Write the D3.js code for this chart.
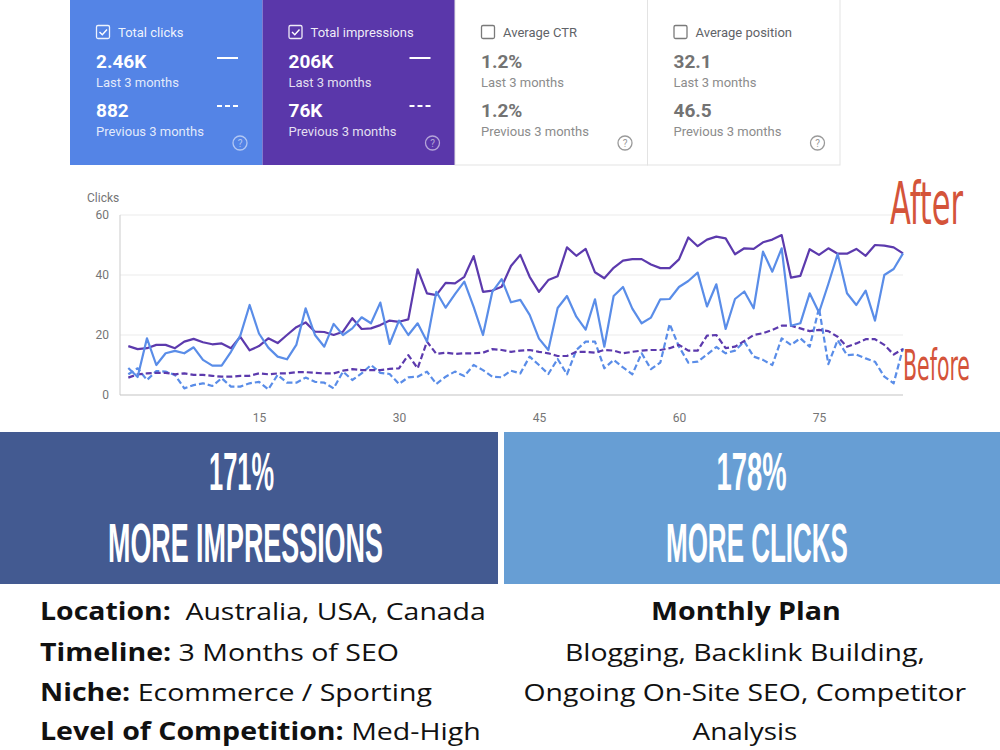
<!DOCTYPE html>
<html>
<head>
<meta charset="utf-8">
<script src="https://cdn.jsdelivr.net/npm/d3@7"></script>
<style>
  html,body{margin:0;padding:0;background:#fff;}
  svg{display:block;}
</style>
</head>
<body>
<svg id="chart" width="1000" height="750"></svg>
<script>
// ---------------- DATA ----------------
const cardTitles   = ["Total clicks", "Total impressions", "Average CTR", "Average position"];
const cardCurrent  = ["2.46K", "206K", "1.2%", "32.1"];
const cardPrevious = ["882", "76K", "1.2%", "46.5"];
const cardActive   = [true, true, false, false];

const yTicks = [0, 20, 40, 60];
const xTicks = [15, 30, 45, 60, 75];

// Impressions, last 3 months (purple solid)
const impressionsLast = [16.3,15.3,15.6,16.7,16.7,15.6,17.8,18.7,17.6,16.9,17.2,15.6,19.4,14.9,16.3,18.9,17.3,20,22.6,24.2,
  21.1,21,20,21.1,25.6,22,22.2,23.3,24.8,24.4,25.2,41.9,33.9,33.3,37.4,37.2,39.4,46.3,34.4,34.8,36.1,43,46.7,39.4,34.4,38.3,
  39.6,49.2,46.4,48.7,40.9,38.9,42.4,44.8,45.3,45.3,43.5,42.3,42.3,45.2,52.5,49.6,51.8,52.8,52.2,46.9,48.9,48.7,50.9,51.8,
  53.3,39.1,39.7,48.6,46.7,48.9,47.1,47.1,48.7,46.4,50,49.8,49.2,47.2];
// Clicks, last 3 months (blue solid)
const clicksLast = [9,6,18.9,10,13.9,14.7,13.9,15.9,11.7,9.8,9.8,14.4,19.8,30,20.5,15.8,12.8,11.9,16.7,28.9,
  20,16.1,23.7,20,22.2,25.9,23.9,30.8,17,24.8,20,23.9,17.8,34.4,29.1,33.6,37.8,29.4,20,34.4,38.6,30.9,31.7,26.7,18.8,15,
  29,33,26.1,21.8,31.9,16.1,33,36,28.8,23.9,25.8,31.9,32,36,38,40.8,29.5,36.9,22,32,34.5,28.9,47.8,41.1,
  48.9,23.1,23.9,33.9,27.5,37,47,33.9,30,34.8,24.8,40,42,47.2];
// Impressions, previous 3 months (purple dashed)
const impressionsPrev = [5.8,6.9,7.2,7.4,7.4,6.9,7.2,6.7,6.7,6.4,6.1,6.1,6.4,6.4,7.2,6.9,7.2,7.2,7.6,7.6,
  7.4,7.2,7.2,8.1,8.6,8.3,8.3,8.3,8.7,8.9,13.3,8.9,17.8,13.7,14.1,13.7,13.9,13.9,14.1,15.3,15,14.4,14.8,15,14.4,13.9,
  13,13,14.4,14.4,14.1,15,14.8,13.9,14.4,14.8,15,15,15.6,16.7,14.8,14.8,19.8,20,15.6,16.1,18,20,20.6,21.7,
  23.1,23.1,22.2,21.3,21.7,21.3,19.4,16.1,17.2,18.6,18.6,16.7,13.5,15.3];
// Clicks, previous 3 months (blue dashed)
const clicksPrev = [6.9,8.9,5,8,7.8,6.7,2.2,3.3,3.9,3,5.6,2.8,2.8,3.9,4.4,1.9,6.7,4.1,4.1,5.8,
  4.4,4.1,2.2,7.8,5,7.2,10,7.4,7,3.7,5.9,6.1,7.8,3.7,6.1,7.8,6.3,10,8.3,6.1,5.9,8.1,7.2,12.8,10,7,
  12,6.9,15,17.8,17.8,8.9,11.7,9.2,6.9,13.9,8.6,10.8,23.7,16.1,10.8,11.1,13.5,16,13.9,14.8,17.8,12.8,11.7,10,
  18.9,16.7,18.9,16.1,29,10.3,18.3,13.3,13.5,12.2,11.1,6.1,3.9,15.6];

const statPercents = ["171%", "178%"];
const statLabels   = ["MORE IMPRESSIONS", "MORE CLICKS"];

const detailRows = [
  ["Location:", "  Australia, USA, Canada"],
  ["Timeline:", " 3 Months of SEO"],
  ["Niche:", " Ecommerce / Sporting"],
  ["Level of Competition:", " Med-High"]
];
const planTitle = "Monthly Plan";
const planLines = ["Blogging, Backlink Building,", "Ongoing On-Site SEO, Competitor", "Analysis"];

// ---------------- STYLE ----------------
const BLUE = "#5a8de8", PURPLE = "#5c3aad";
const CARD_BLUE = "#5484e6", CARD_PURPLE = "#5a37aa";
const svg = d3.select("#chart");
const FONT = "Roboto, 'Noto Sans', sans-serif";

// place a text so its natural width is scaled to a target width (left edge at x, baseline y)
function fitText(sel, x, yBase, targetW, sy) {
  const len = sel.node().getComputedTextLength();
  const sx = targetW / len;
  sel.attr("x", 0).attr("y", 0)
    .attr("transform", `translate(${x},${yBase}) scale(${sx},${sy || 1})`);
  return sel;
}

// ---------------- CARDS ----------------
const cardX = d3.scaleBand().domain(cardTitles).range([70, 840]).padding(0);
const cardFill = [CARD_BLUE, CARD_PURPLE, "#fff", "#fff"];

cardTitles.forEach((t, i) => {
  const x0 = cardX(t), w = cardX.bandwidth();
  const act = cardActive[i];
  const g = svg.append("g").attr("transform", `translate(${x0},0)`);
  g.append("rect").attr("x", 0).attr("y", -2).attr("width", w).attr("height", 167)
    .attr("fill", cardFill[i])
    .attr("stroke", act ? "none" : "#e3e3e3").attr("stroke-width", 1);
  const cTitle = act ? "rgba(255,255,255,0.92)" : "#5f6368";
  const cVal = act ? "#fff" : "#737373";
  const cSub = act ? "rgba(255,255,255,0.85)" : "#8c8c8c";
  g.append("rect").attr("x", 26.5).attr("y", 25.5).attr("width", 13).attr("height", 13).attr("rx", 1.5)
    .attr("fill", "none").attr("stroke", act ? "rgba(255,255,255,0.9)" : "#7a7a7a").attr("stroke-width", 1.3);
  if (act) {
    g.append("path").attr("d", "M29.5,32 L32.3,34.8 L37,29.5").attr("fill", "none")
      .attr("stroke", "#fff").attr("stroke-width", 1.4);
  }
  g.append("text").attr("x", 48).attr("y", 37).text(t)
    .attr("font-family", FONT).attr("font-size", 13).attr("fill", cTitle);
  g.append("text").attr("x", 26).attr("y", 68).text(cardCurrent[i])
    .attr("font-family", FONT).attr("font-size", 19).attr("font-weight", 700).attr("fill", cVal);
  g.append("text").attr("x", 26).attr("y", 87).text("Last 3 months")
    .attr("font-family", FONT).attr("font-size", 13).attr("fill", cSub);
  g.append("text").attr("x", 26).attr("y", 117).text(cardPrevious[i])
    .attr("font-family", FONT).attr("font-size", 19).attr("font-weight", 700).attr("fill", cVal);
  g.append("text").attr("x", 26).attr("y", 136).text("Previous 3 months")
    .attr("font-family", FONT).attr("font-size", 13).attr("fill", cSub);
  if (act) {
    g.append("line").attr("x1", 147).attr("x2", 168).attr("y1", 58).attr("y2", 58)
      .attr("stroke", "#fff").attr("stroke-width", 2);
    g.append("line").attr("x1", 147).attr("x2", 168).attr("y1", 106).attr("y2", 106)
      .attr("stroke", "#fff").attr("stroke-width", 2).attr("stroke-dasharray", "5,3");
  }
  const hc = act ? "rgba(255,255,255,0.55)" : "#9a9a9a";
  g.append("circle").attr("cx", 170).attr("cy", 143).attr("r", 7)
    .attr("fill", "none").attr("stroke", hc).attr("stroke-width", 1.3);
  g.append("text").attr("x", 170).attr("y", 147).attr("text-anchor", "middle").text("?")
    .attr("font-family", FONT).attr("font-size", 10).attr("fill", hc);
});

// ---------------- LINE CHART ----------------
const x = d3.scaleLinear().domain([1, 84]).range([128.3, 903]);
const y = d3.scaleLinear().domain([0, 60]).range([395, 215]);
const plotLeft = 120, plotRight = 903;

svg.append("g").selectAll("line").data(yTicks.filter(v => v > 0)).join("line")
  .attr("x1", plotLeft).attr("x2", plotRight)
  .attr("y1", d => y(d)).attr("y2", d => y(d))
  .attr("stroke", "#ececec").attr("stroke-width", 1.2);
svg.append("line").attr("x1", plotLeft).attr("x2", plotLeft).attr("y1", y(60)).attr("y2", y(0))
  .attr("stroke", "#d4d4d4").attr("stroke-width", 1.2);
svg.append("line").attr("x1", plotLeft).attr("x2", plotRight).attr("y1", y(0)).attr("y2", y(0))
  .attr("stroke", "#c4c4c4").attr("stroke-width", 1.2);

const yAxis = svg.append("g").attr("transform", `translate(${plotLeft - 11},0)`)
  .call(d3.axisLeft(y).tickValues(yTicks).tickSize(0).tickPadding(0));
yAxis.select(".domain").remove();
yAxis.selectAll("text").attr("font-family", FONT).attr("font-size", 12).attr("fill", "#757575");

const xAxis = svg.append("g").attr("transform", `translate(0,${y(0) + 18})`)
  .call(d3.axisBottom(x).tickValues(xTicks).tickSize(0).tickPadding(0));
xAxis.select(".domain").remove();
xAxis.selectAll("text").attr("font-family", FONT).attr("font-size", 12).attr("fill", "#757575");

svg.append("text").attr("x", 87).attr("y", 202).text("Clicks")
  .attr("font-family", FONT).attr("font-size", 12).attr("fill", "#757575");

const line = d3.line().x((d, i) => x(i + 1)).y(d => y(d));
const seriesDefs = [
  {data: clicksPrev, color: BLUE, dash: "6,3"},
  {data: impressionsPrev, color: PURPLE, dash: "6,3"},
  {data: impressionsLast, color: PURPLE, dash: null},
  {data: clicksLast, color: BLUE, dash: null}
];
seriesDefs.forEach(s => {
  svg.append("path").datum(s.data).attr("d", line)
    .attr("fill", "none").attr("stroke", s.color).attr("stroke-width", 2.2)
    .attr("stroke-linejoin", "round")
    .attr("stroke-dasharray", s.dash);
});

// After / Before annotations
const ANNO = "'Liberation Sans Narrow', 'DejaVu Sans Condensed', sans-serif";
fitText(svg.append("text").text("After").attr("font-family", ANNO)
  .attr("font-size", 40).attr("fill", "#d4543a"), 890, 224, 73, 1.45);
fitText(svg.append("text").text("Before").attr("font-family", ANNO)
  .attr("font-size", 30).attr("fill", "#d4543a"), 903, 380, 67, 1.4);

// ---------------- STAT BOXES ----------------
const boxX = [0, 504], boxW = [498, 496];
const boxFill = ["#435a91", "#679ed4"];
const pctCenters = [241.5, 751.5], pctW = [65, 70];
const lblCenters = [245.5, 757], lblW = [275, 182];
const HEAD = "'Liberation Sans Narrow', 'Liberation Sans', Arial, sans-serif";
statPercents.forEach((p, i) => {
  svg.append("rect").attr("x", boxX[i]).attr("y", 432).attr("width", boxW[i]).attr("height", 152)
    .attr("fill", boxFill[i]);
  fitText(svg.append("text").text(p)
    .attr("font-family", HEAD).attr("font-weight", 700).attr("font-size", 54).attr("fill", "#fff"),
    pctCenters[i] - pctW[i] / 2, 490, pctW[i], 1);
  fitText(svg.append("text").text(statLabels[i])
    .attr("font-family", HEAD).attr("font-weight", 700).attr("font-size", 56).attr("fill", "#fff"),
    lblCenters[i] - lblW[i] / 2, 562, lblW[i], 1);
});

// ---------------- DETAILS ----------------
const BODY = "'Open Sans', 'Noto Sans', sans-serif";
const BODY_SIZE = 24.5;
const rowBase = [620, 661, 701, 740];
const rowW = [446, 359, 392, 441];
detailRows.forEach((r, i) => {
  const t = svg.append("text")
    .attr("font-family", BODY).attr("font-size", BODY_SIZE).attr("fill", "#111")
    .style("white-space", "pre");
  t.append("tspan").attr("font-weight", 700).text(r[0]);
  t.append("tspan").text(r[1]);
  fitText(t, 40, rowBase[i], rowW[i], 1);
});
const planW = [360, 443, 105];
fitText(svg.append("text").text(planTitle)
  .attr("font-family", BODY).attr("font-size", BODY_SIZE).attr("font-weight", 700).attr("fill", "#111"),
  746 - 95, 620, 190, 1);
planLines.forEach((l, i) => {
  fitText(svg.append("text").text(l)
    .attr("font-family", BODY).attr("font-size", BODY_SIZE).attr("fill", "#111"),
    745 - planW[i] / 2, rowBase[i + 1], planW[i], 1);
});
</script>
</body>
</html>
